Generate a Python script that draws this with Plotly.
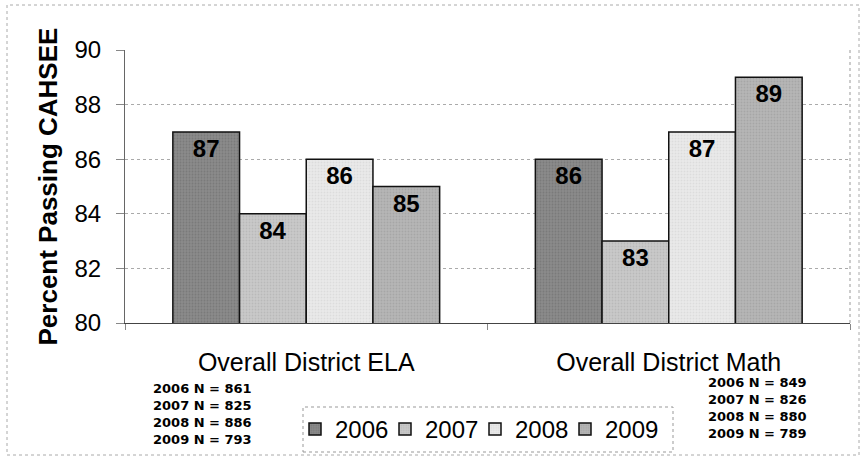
import plotly.graph_objects as go

categories = ["Overall District ELA", "Overall District Math"]
years = ["2006", "2007", "2008", "2009"]
values_2006 = [87, 86]
values_2007 = [84, 83]
values_2008 = [86, 87]
values_2009 = [85, 89]
series = [values_2006, values_2007, values_2008, values_2009]
colors = ["#8a8a8a", "#c9c9c9", "#e9e9e9", "#b6b6b6"]
dots = ["#6a6a6a", "#a9a9a9", "#cfcfcf", "#969696"]
n_ela = ["2006 N = 861", "2007 N = 825", "2008 N = 886", "2009 N = 793"]
n_math = ["2006 N = 849", "2007 N = 826", "2008 N = 880", "2009 N = 789"]
y_title = "Percent Passing CAHSEE"

PLOT_W, PLOT_H = 725, 273
legend_ids = ["legend", "legend2", "legend3", "legend4"]

fig = go.Figure()
for yr, vals, col, dc, lg in zip(years, series, colors, dots, legend_ids):
    fig.add_trace(go.Bar(
        x=categories, y=vals, name=yr, legend=lg,
        marker=dict(color=col, line=dict(color="#111111", width=1.5),
                    pattern=dict(shape=".", fgcolor=dc, bgcolor=col,
                                 size=3, solidity=0.3)),
        text=[str(v) for v in vals], textposition="inside",
        insidetextanchor="end", textangle=0,
        textfont=dict(family="Arial", size=24, color="black", weight="bold"),
    ))

legend_style = dict(orientation="h", xanchor="left",
                    y=(323 - 407) / PLOT_H, yanchor="top",
                    font=dict(family="Arial", size=24, color="black"),
                    bgcolor="rgba(0,0,0,0)", borderwidth=0,
                    itemwidth=30, tracegroupgap=0)
legends = {lg: dict(legend_style, x=(295 + 90 * i - 125) / PLOT_W)
           for i, lg in enumerate(legend_ids)}

fig.update_layout(
    width=861, height=458,
    margin=dict(l=125, r=11, t=50, b=135, autoexpand=False),
    paper_bgcolor="white", plot_bgcolor="white",
    barmode="group", bargap=0.264, bargroupgap=0,
    font=dict(family="Arial", color="black"),
    uniformtext=dict(minsize=8, mode="show"),
    showlegend=True,
    xaxis=dict(showline=True, linecolor="#444444", linewidth=1,
               tickson="boundaries", ticks="outside", ticklen=6, tickcolor="#888888",
               tickfont=dict(family="Arial", size=25, color="black"),
               ticklabelstandoff=17),
    yaxis=dict(range=[80, 90], dtick=2, showgrid=True, gridcolor="#aaaaaa",
               griddash="dot", gridwidth=1,
               showline=True, linecolor="#666666", linewidth=1,
               ticks="outside", ticklen=8, tickcolor="#888888",
               tickfont=dict(family="Arial", size=24, color="black"),
               ticklabelstandoff=10),
    **legends,
)

# y-axis title
fig.add_annotation(text=y_title, xref="paper", yref="paper",
                   x=(47 - 125) / PLOT_W, y=0.5, xanchor="center", yanchor="middle",
                   textangle=-90, showarrow=False,
                   font=dict(family="Arial", size=26, color="black", weight="bold"))

# right border of plot area
fig.add_shape(type="line", xref="paper", yref="paper", x0=1, x1=1, y0=0, y1=1,
              line=dict(color="#999999", width=1, dash="dot"))
# outer border
fig.add_shape(type="rect", xref="paper", yref="paper",
              x0=(7 - 125) / PLOT_W, x1=(859 - 125) / PLOT_W,
              y0=(323 - 455) / PLOT_H, y1=(323 - 5) / PLOT_H,
              line=dict(color="#aaaaaa", width=1, dash="dot"))
# legend box
fig.add_shape(type="rect", xref="paper", yref="paper",
              x0=(303 - 125) / PLOT_W, x1=(673 - 125) / PLOT_W,
              y0=(323 - 452) / PLOT_H, y1=(323 - 407) / PLOT_H,
              line=dict(color="#999999", width=1, dash="dot"))

fig.add_annotation(text="<br>".join(n_ela), xref="paper", yref="paper",
                   x=(151 - 125) / PLOT_W, y=(323 - 379) / PLOT_H,
                   xanchor="left", yanchor="top", align="left", showarrow=False,
                   font=dict(family="DejaVu Sans", size=13, color="black", weight="bold"))
fig.add_annotation(text="<br>".join(n_math), xref="paper", yref="paper",
                   x=(706 - 125) / PLOT_W, y=(323 - 373) / PLOT_H,
                   xanchor="left", yanchor="top", align="left", showarrow=False,
                   font=dict(family="DejaVu Sans", size=13, color="black", weight="bold"))

fig.write_html("out.html", config={"displayModeBar": False},
               post_script="document.body.style.margin='0px';")
